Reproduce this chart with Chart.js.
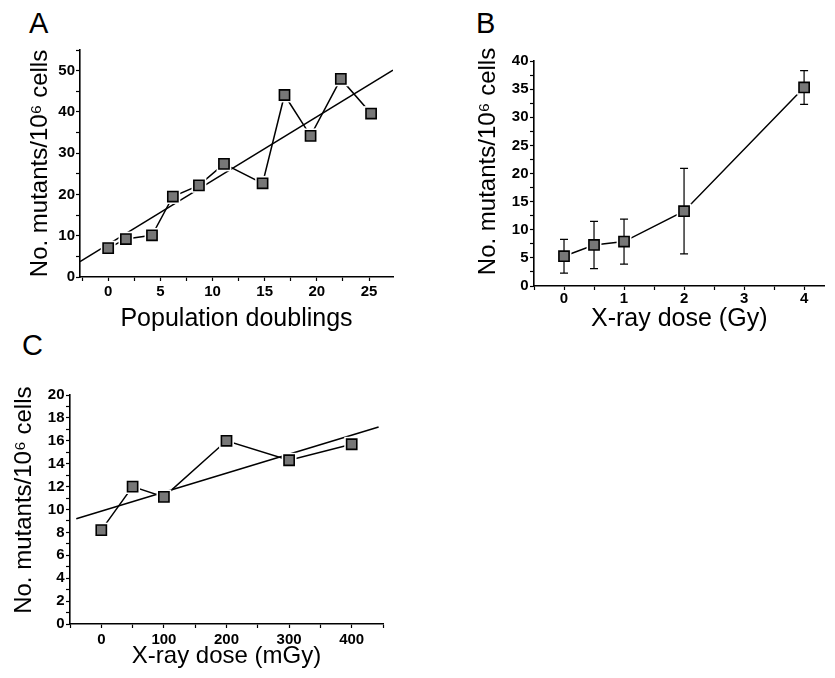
<!DOCTYPE html>
<html lang="en">
<head>
<meta charset="UTF-8">
<title>Mutant frequency</title>
<script src="https://cdn.jsdelivr.net/npm/chart.js"></script>
<style>
  body { margin: 0; background: #fff; width: 835px; height: 678px; position: relative; overflow: hidden;
         font-family: "Liberation Sans", Arial, sans-serif; }
  canvas { position: absolute; }
  .tag { position: absolute; font-size: 29px; line-height: 28px; color: #000; }
</style>
</head>
<body>
<div class="tag" style="left:29px;top:9px">A</div>
<div class="tag" style="left:476px;top:9px">B</div>
<div class="tag" style="left:22px;top:331px">C</div>
<canvas id="chartA" width="420" height="340" style="left:0;top:0"></canvas>
<canvas id="chartB" width="415" height="340" style="left:420px;top:0"></canvas>
<canvas id="chartC" width="420" height="338" style="left:0;top:340px"></canvas>
<script>
// panel A: mutants vs population doublings
const popDoublings = [0, 1.7, 4.2, 6.2, 8.7, 11.1, 14.8, 16.9, 19.4, 22.3, 25.2];
const mutantsA = [7.0, 9.2, 10.1, 19.5, 22.2, 27.4, 22.7, 44.1, 34.2, 48.0, 39.6];
const fitXA = [-2.7, 27.3];
const fitYA = [3.7, 50.1];

// panel B: mutants vs X-ray dose (Gy), with error bars
const doseGy = [0, 0.5, 1, 2, 4];
const mutantsB = [5.3, 7.3, 7.9, 13.3, 35.3];
const errB = [3.0, 4.2, 4.0, 7.6, 3.0];

// panel C: mutants vs low X-ray dose (mGy)
const doseMGy = [0, 50, 100, 200, 300, 400];
const mutantsC = [8.2, 12.0, 11.1, 16.0, 14.3, 15.7];
const fitXC = [-40, 443];
const fitYC = [9.2, 17.2];

const yTitle = 'No. mutants/10\u2076 cells';
const FONT = '"Liberation Sans", Arial, sans-serif';

function pts(xs, ys) {
  return xs.map((x, i) => ({ x: x, y: ys[i] }));
}

function isMajor(v, major) {
  const r = v / major;
  return Math.abs(r - Math.round(r)) < 1e-6;
}

function axis(o) {
  return {
    type: 'linear',
    position: o.pos,
    min: o.min,
    max: o.max,
    afterFit: s => { if (o.pos === 'bottom') s.height = o.size; else s.width = o.size; },
    // ticks on round multiples of the minor step, whatever the axis ends are
    afterBuildTicks: s => {
      const t = [];
      for (let k = Math.ceil(o.min / o.step - 1e-9); k * o.step <= o.max + 1e-9; k++) {
        t.push({ value: +(k * o.step).toFixed(6) });
      }
      s.ticks = t;
    },
    border: { display: true, color: '#000', width: 1.6 },
    grid: { drawOnChartArea: false, drawTicks: true, tickLength: 4, tickColor: '#000', tickWidth: 1.2 },
    ticks: {
      autoSkip: false, maxRotation: 0, padding: o.pad, color: '#000',
      font: { family: FONT, size: 15, weight: 'bold' },
      callback: v => isMajor(v, o.major) ? String(Math.round(v)) : ''
    },
    title: {
      display: true, text: o.title, color: '#000',
      font: { family: FONT, size: o.titleSize },
      padding: o.pos === 'bottom' ? { top: 0, bottom: o.titlePad } : { top: o.titlePad, bottom: 0 }
    }
  };
}

function seriesSets(data, fit) {
  const sets = [
    { data: data, showLine: false, pointStyle: 'rect', pointRadius: 7.2, pointHoverRadius: 7.2,
      pointBackgroundColor: '#777', pointBorderColor: '#000', pointBorderWidth: 1.6 },
    { data: data, showLine: false, pointStyle: 'rect', pointRadius: 10.5, pointHoverRadius: 10.5,
      pointBackgroundColor: '#fff', pointBorderWidth: 0 },
    { data: data, showLine: true, pointRadius: 0, borderColor: '#000', borderWidth: 1.5, fill: false }
  ];
  if (fit) {
    sets.push({ data: fit, showLine: true, pointRadius: 0, borderColor: '#000', borderWidth: 1.5, fill: false });
  }
  return sets;
}

// draws the B error bars right after the white halo, under the markers
const errorBars = {
  id: 'errorBars',
  afterDatasetDraw(chart, args) {
    if (args.index !== 1) return;
    const { ctx, scales: { x, y } } = chart;
    ctx.save();
    ctx.strokeStyle = '#000';
    ctx.lineWidth = 1.2;
    doseGy.forEach((d, i) => {
      const px = x.getPixelForValue(d);
      const top = y.getPixelForValue(mutantsB[i] + errB[i]);
      const bot = y.getPixelForValue(mutantsB[i] - errB[i]);
      ctx.beginPath();
      ctx.moveTo(px, top); ctx.lineTo(px, bot);
      ctx.moveTo(px - 4, top); ctx.lineTo(px + 4, top);
      ctx.moveTo(px - 4, bot); ctx.lineTo(px + 4, bot);
      ctx.stroke();
    });
    ctx.restore();
  }
};

const common = {
  responsive: false,
  animation: false,
  plugins: { legend: { display: false }, tooltip: { enabled: false } },
  events: []
};

new Chart(document.getElementById('chartA'), {
  type: 'scatter',
  data: { datasets: seriesSets(pts(popDoublings, mutantsA), pts(fitXA, fitYA)) },
  options: Object.assign({}, common, {
    layout: { padding: { top: 50, right: 27, left: 0, bottom: 0 } },
    scales: {
      x: axis({ pos: 'bottom', min: -2.7, max: 27.3, step: 2.5, major: 5, size: 63, pad: 1.5,
                title: 'Population doublings', titleSize: 25, titlePad: 6 }),
      y: axis({ pos: 'left', min: 0, max: 55, step: 5, major: 10, size: 80, pad: 1,
                title: yTitle, titleSize: 24, titlePad: 26 })
    }
  })
});

new Chart(document.getElementById('chartB'), {
  type: 'scatter',
  data: { datasets: seriesSets(pts(doseGy, mutantsB), null) },
  plugins: [errorBars],
  options: Object.assign({}, common, {
    layout: { padding: { top: 61, right: 1, left: 0, bottom: 0 } },
    scales: {
      x: axis({ pos: 'bottom', min: -0.5, max: 4.34, step: 0.5, major: 1, size: 54, pad: 0,
                title: 'X-ray dose (Gy)', titleSize: 25, titlePad: 6 }),
      // leading en spaces lift the rotated title to where the original sits
      y: axis({ pos: 'left', min: 0, max: 40, step: 2.5, major: 5, size: 114, pad: 1.5,
                title: '\u2002\u2002' + yTitle, titleSize: 24, titlePad: 54 })
    }
  })
});

new Chart(document.getElementById('chartC'), {
  type: 'scatter',
  data: { datasets: seriesSets(pts(doseMGy, mutantsC), pts(fitXC, fitYC)) },
  options: Object.assign({}, common, {
    layout: { padding: { top: 55, right: 37, left: 0, bottom: 0 } },
    scales: {
      x: axis({ pos: 'bottom', min: -50, max: 450, step: 50, major: 100, size: 54, pad: 2.5,
                title: 'X-ray dose (mGy)', titleSize: 24, titlePad: 7 }),
      y: axis({ pos: 'left', min: 0, max: 20, step: 1, major: 2, size: 70, pad: 1.5,
                title: '\u2002 ' + yTitle, titleSize: 24, titlePad: 10 })
    }
  })
});
</script>
</body>
</html>
